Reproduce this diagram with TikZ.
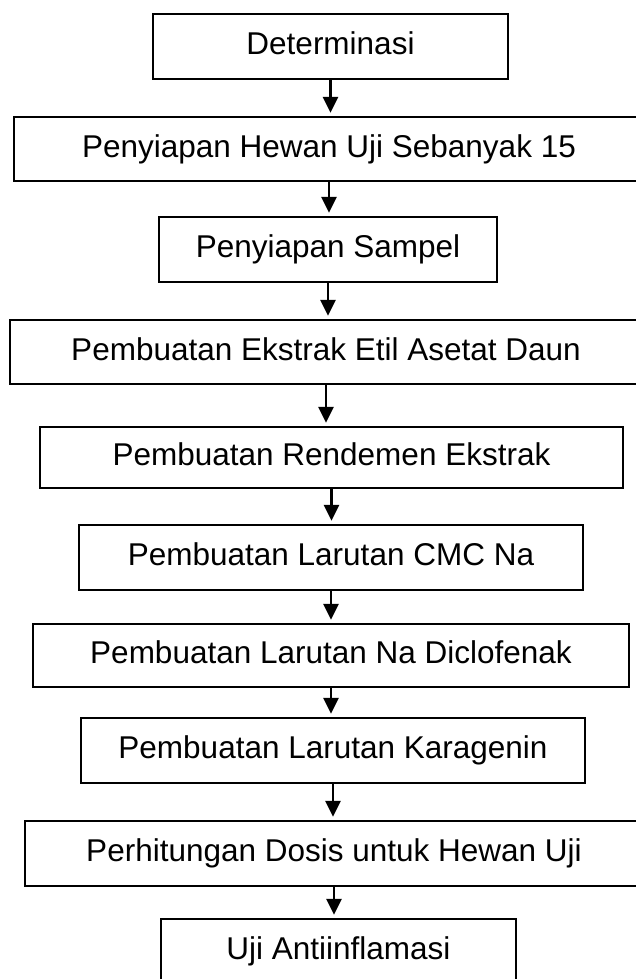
\documentclass[tikz,border=0pt]{standalone}
\usepackage{fontspec}
\setmainfont{Liberation Sans}
\usetikzlibrary{arrows.meta}
\begin{document}
\begin{tikzpicture}[x=1pt,y=-1pt,
  box/.style={draw=black,line width=2.3pt,rectangle,inner sep=0pt,
    font=\fontsize{31.5}{36}\selectfont,text height=23pt,text depth=6.5pt},
  arr/.style={line width=2.6pt,-{Triangle[width=15pt,length=16pt]},shorten >=3pt}]
\useasboundingbox (0,0) rectangle (635,979);
\fill[white] (0,0) rectangle (635,979);
\node[box,minimum width=355pt,minimum height=65pt] (b1) at (330.5,46.5) {Determinasi};
\node[box,minimum width=630pt,minimum height=64pt] (b2) at (329,149) {Penyiapan Hewan Uji Sebanyak 15};
\node[box,minimum width=338pt,minimum height=65pt] (b3) at (328,249.5) {Penyiapan Sampel};
\node[box,minimum width=632pt,minimum height=64pt] (b4) at (326,352) {Pembuatan Ekstrak Etil Asetat Daun};
\node[box,minimum width=583pt,minimum height=61pt] (b5) at (331.5,457.5) {Pembuatan Rendemen Ekstrak};
\node[box,minimum width=504pt,minimum height=65pt] (b6) at (331,557.5) {Pembuatan Larutan CMC Na};
\node[box,minimum width=596pt,minimum height=63pt] (b7) at (331,655.5) {Pembuatan Larutan Na Diclofenak};
\node[box,minimum width=504pt,minimum height=65pt] (b8) at (333,750.5) {Pembuatan Larutan Karagenin};
\node[box,minimum width=618pt,minimum height=65pt] (b9) at (334,853.5) {Perhitungan Dosis untuk Hewan Uji};
\node[box,minimum width=355pt,minimum height=65pt] (b10) at (338.5,951.5) {Uji Antiinflamasi};
\foreach \a/\b in {b1/b2,b2/b3,b3/b4,b4/b5,b5/b6,b6/b7,b7/b8,b8/b9,b9/b10}
  \draw[arr] (\a.south) -- (\a.south |- \b.north);
\end{tikzpicture}
\end{document}
